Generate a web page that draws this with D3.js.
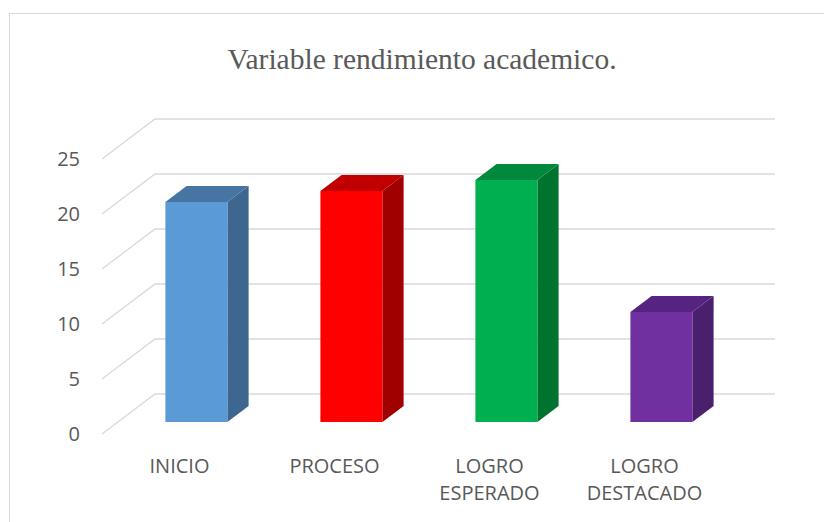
<!DOCTYPE html>
<html>
<head>
<meta charset="utf-8">
<title>Variable rendimiento academico</title>
<script src="https://d3js.org/d3.v7.min.js"></script>
<style>
  * { margin: 0; padding: 0; }
  body { background: #fff; width: 824px; height: 522px; overflow: hidden; }
  svg { display: block; }
  .tick-label, .cat-label { font-family: "Open Sans", sans-serif; font-size: 20px; fill: #595959; }
  .title { font-family: "Liberation Serif", "Times New Roman", serif; font-size: 29.5px; fill: #595959; }
</style>
</head>
<body>
<div id="chart"></div>
<script>
const categories = ["INICIO", "PROCESO", "LOGRO ESPERADO", "LOGRO DESTACADO"];
const values = [20, 21, 22, 10];
const yTicks = [0, 5, 10, 15, 20, 25];
const frontColors = ["#5b9bd5", "#ff0000", "#00b050", "#7030a0"];
const topColors = ["#4675a4", "#c00000", "#00883d", "#552480"];
const sideColors = ["#3d6790", "#a00000", "#00742f", "#4a1f6c"];

const width = 824, height = 522;
// depth offset from back wall to front edge of the floor
const depthX = -53, depthY = 40;

const svg = d3.select("#chart").append("svg")
  .attr("width", width).attr("height", height);

// chart frame
svg.append("rect")
  .attr("x", 9.5).attr("y", 13.5)
  .attr("width", 830).attr("height", 530)
  .attr("fill", "none").attr("stroke", "#d9d9d9").attr("stroke-width", 1);

svg.append("text").attr("class", "title")
  .attr("x", 422).attr("y", 69)
  .attr("text-anchor", "middle")
  .text("Variable rendimiento academico.");

// scales live on the back wall
const x = d3.scaleBand().domain(categories).range([156, 776])
  .paddingInner(0.6).paddingOuter(0.3);
const xBand = d3.scaleBand().domain(categories).range([155, 775]);
const y = d3.scaleLinear().domain([0, 25]).range([394, 119]);

// project a point at depth f (0 = back wall, 1 = front edge)
const proj = (px, py, f) => [px + depthX * f, py + depthY * f];

// gridlines: diagonal on side wall + horizontal on back wall
const grid = svg.append("g").attr("stroke", "#d9d9d9").attr("stroke-width", 1.3).attr("fill", "none");
yTicks.forEach(t => {
  const [fx, fy] = proj(155, y(t), 1);
  grid.append("path").attr("d", `M${fx},${fy}L155,${y(t)}L775,${y(t)}`);
});

// y tick labels at the front edge
yTicks.forEach(t => {
  const [fx, fy] = proj(155, y(t), 1);
  svg.append("text").attr("class", "tick-label")
    .attr("x", fx - 22).attr("y", fy + 7)
    .attr("text-anchor", "end")
    .text(t);
});

// 3D bars
const f0 = 0.7, f1 = 0.3;
const bars = svg.append("g");
categories.forEach((c, i) => {
  const x0 = x(c), x1 = x(c) + x.bandwidth();
  const yb = y(0), yt = y(values[i]);
  const pt = (px, py, f) => proj(px, py, f).join(",");
  const g = bars.append("g");
  // side face
  g.append("path")
    .attr("d", `M${pt(x1, yt, f0)}L${pt(x1, yt, f1)}L${pt(x1, yb, f1)}L${pt(x1, yb, f0)}Z`)
    .attr("fill", sideColors[i]);
  // top face
  g.append("path")
    .attr("d", `M${pt(x0, yt, f0)}L${pt(x0, yt, f1)}L${pt(x1, yt, f1)}L${pt(x1, yt, f0)}Z`)
    .attr("fill", topColors[i]);
  // front face
  g.append("path")
    .attr("d", `M${pt(x0, yt, f0)}L${pt(x1, yt, f0)}L${pt(x1, yb, f0)}L${pt(x0, yb, f0)}Z`)
    .attr("fill", frontColors[i]);
});

// category labels, centred under each band on the front edge
categories.forEach(c => {
  const cx = xBand(c) + xBand.bandwidth() / 2 + depthX;
  const words = c.split(" ");
  const t = svg.append("text").attr("class", "cat-label")
    .attr("text-anchor", "middle");
  words.forEach((w, k) => {
    t.append("tspan").attr("x", cx).attr("y", 473 + k * 27).text(w);
  });
});
</script>
</body>
</html>
